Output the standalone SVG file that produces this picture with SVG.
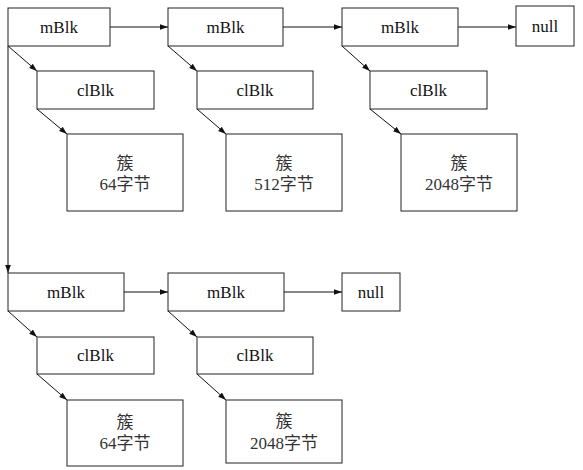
<svg xmlns="http://www.w3.org/2000/svg" width="583" height="470" viewBox="0 0 583 470">
<defs>
<marker id="ah" viewBox="0 0 10 10" refX="10" refY="5" markerWidth="8" markerHeight="8" markerUnits="userSpaceOnUse" orient="auto">
<path d="M0,1.5 L10,5 L0,8.5 Z" fill="#111"/>
</marker>
<style>
rect{fill:#fff;stroke:#222;stroke-width:1}
text{font-size:17px;fill:#111;text-anchor:middle}
.cn{fill:#333}
#connectors line{stroke:#111;stroke-width:1;marker-end:url(#ah)}
</style>
</defs>
<rect x="0" y="0" width="583" height="470" style="stroke:none;fill:#fff"/>
<g id="connectors">
<line x1="110" y1="27" x2="168" y2="27"/>
<line x1="283" y1="27" x2="342" y2="27"/>
<line x1="458" y1="27" x2="516" y2="27"/>
<line x1="8" y1="46" x2="37" y2="71"/>
<line x1="37" y1="109" x2="67" y2="134"/>
<line x1="168" y1="46" x2="197" y2="71"/>
<line x1="197" y1="109" x2="226" y2="134"/>
<line x1="342" y1="46" x2="370" y2="71"/>
<line x1="370" y1="109" x2="401" y2="134"/>
<line x1="8" y1="46" x2="8" y2="273"/>
<line x1="124" y1="292" x2="168" y2="292"/>
<line x1="284" y1="292" x2="342" y2="292"/>
<line x1="8" y1="311" x2="37" y2="337"/>
<line x1="37" y1="374" x2="67" y2="400"/>
<line x1="168" y1="311" x2="197" y2="337"/>
<line x1="197" y1="374" x2="226" y2="400"/>
</g>
<g font-family="Liberation Serif, Noto Sans CJK SC, serif">
<g id="m1"><rect x="8" y="8" width="102" height="38"/><text x="59" y="33">mBlk</text></g>
<g id="m2"><rect x="168" y="8" width="115" height="38"/><text x="225.5" y="33">mBlk</text></g>
<g id="m3"><rect x="342" y="8" width="116" height="38"/><text x="400" y="33">mBlk</text></g>
<g id="null1"><rect x="516" y="6" width="58" height="40"/><text x="545" y="32">null</text></g>
<g id="c1"><rect x="37" y="71" width="117" height="38"/><text x="95.5" y="96">clBlk</text></g>
<g id="c2"><rect x="197" y="71" width="116" height="38"/><text x="255" y="96">clBlk</text></g>
<g id="c3"><rect x="370" y="71" width="117" height="38"/><text x="428.5" y="96">clBlk</text></g>
<g id="k1"><rect x="67" y="134" width="116" height="77"/><text class="cn" x="125" y="169">簇</text><text class="cn" x="125" y="190">64字节</text></g>
<g id="k2"><rect x="226" y="134" width="116" height="77"/><text class="cn" x="284" y="169">簇</text><text class="cn" x="284" y="190">512字节</text></g>
<g id="k3"><rect x="401" y="134" width="116" height="77"/><text class="cn" x="459" y="169">簇</text><text class="cn" x="459" y="190">2048字节</text></g>
<g id="m4"><rect x="8" y="273" width="116" height="38"/><text x="66" y="298">mBlk</text></g>
<g id="m5"><rect x="168" y="273" width="116" height="38"/><text x="226" y="298">mBlk</text></g>
<g id="null2"><rect x="342" y="273" width="58" height="38"/><text x="371" y="298">null</text></g>
<g id="c4"><rect x="37" y="337" width="117" height="37"/><text x="95.5" y="361">clBlk</text></g>
<g id="c5"><rect x="197" y="337" width="116" height="37"/><text x="255" y="361">clBlk</text></g>
<g id="k4"><rect x="67" y="400" width="116" height="66"/><text class="cn" x="125" y="428">簇</text><text class="cn" x="125" y="449">64字节</text></g>
<g id="k5"><rect x="226" y="400" width="116" height="63"/><text class="cn" x="284" y="427">簇</text><text class="cn" x="284" y="449">2048字节</text></g>
</g>
</svg>
